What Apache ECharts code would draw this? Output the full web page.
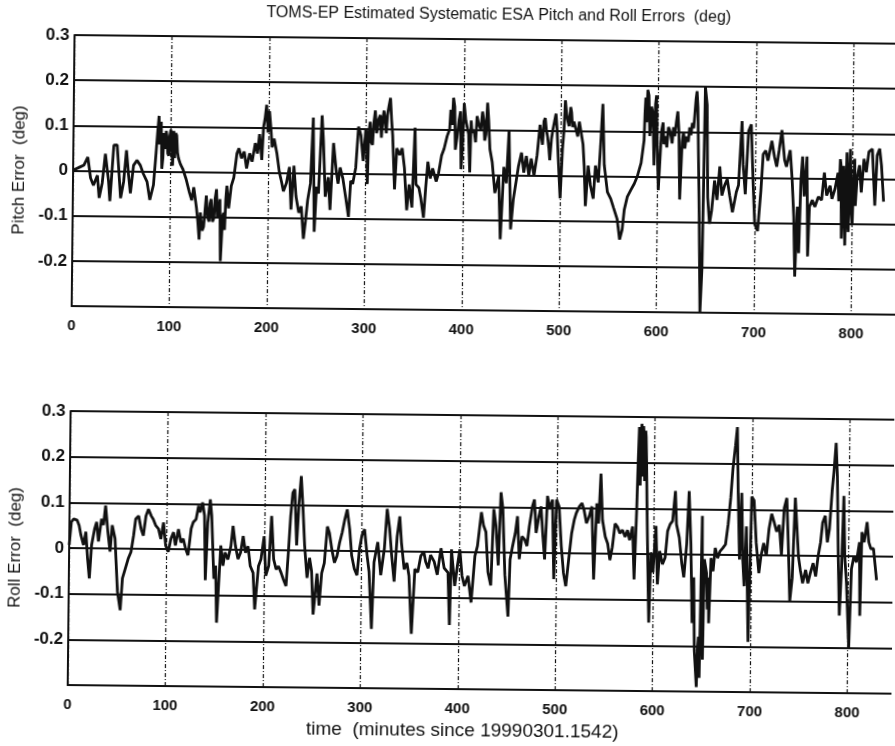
<!DOCTYPE html>
<html>
<head>
<meta charset="utf-8">
<script src="https://cdn.jsdelivr.net/npm/echarts@6/dist/echarts.min.js"></script>
<style>
  html, body { margin: 0; padding: 0; background: #fff; overflow: hidden; }
  #chart { width: 895px; height: 746px; transform: rotate(0.6deg); transform-origin: 50% 50%; }
</style>
</head>
<body>
<div id="chart"></div>
<script>
// Chart text
const chartTitle = 'TOMS-EP Estimated Systematic ESA Pitch and Roll Errors  (deg)';
const pitchAxisName = 'Pitch Error  (deg)';
const rollAxisName = 'Roll Error  (deg)';
const timeAxisName = 'time  (minutes since 19990301.1542)';

// Axis ranges and tick spacing
const timeRange = [0, 900];
const timeStep = 100;
const errRange = [-0.3, 0.3];
const errStep = 0.1;

// Estimated pitch error: [minutes, deg]
const pitchSamples = [
  [0,0.000],[3,0.004],[7,0.008],[11,0.012],[15,0.030],[18,-0.016],[21,-0.032],[25,-0.010],
  [27,-0.060],[30,-0.027],[33,0.038],[36.5,-0.023],[38,-0.067],[41.6,0.057],[45,0.058],[49,-0.060],
  [52,-0.023],[54.6,0.046],[57,-0.009],[59,-0.049],[62,0.013],[65.5,0.024],[69,0.013],[72,-0.005],
  [76,-0.023],[79,-0.063],[82.6,-0.030],[85,0.042],[86.5,0.090],[87.7,0.123],[88.5,0.060],[89.4,0.100],
  [90,0.110],[91,0.006],[92,0.030],[93,0.085],[94.5,0.050],[95.2,0.090],[96,0.078],[97,0.040],
  [98,0.035],[99,0.080],[100,0.093],[101,0.050],[102,0.013],[103,0.090],[104,0.030],[105,0.085],
  [106,0.080],[107,0.042],[108,0.030],[110,0.017],
  [112.6,0.006],[116,-0.016],[119.5,-0.045],[122,-0.063],[124,-0.034],[127,-0.080],[128.5,-0.110],[130,-0.150],
  [131,-0.090],[132,-0.088],[133,-0.130],[134.5,-0.121],[136,-0.080],[137,-0.052],[138.5,-0.100],[140,-0.110],
  [141,-0.070],[142,-0.060],[143.5,-0.110],[145,-0.102],[146,-0.060],[147.4,-0.038],[148.5,-0.100],[150,-0.092],
  [151,-0.060],[152,-0.197],[154,-0.096],[155,-0.090],[156,-0.128],[157,-0.060],[158,-0.030],[160,-0.080],
  [162.5,-0.030],[165,-0.012],[168,0.042],[170,0.053],
  [172.7,0.031],[175.4,0.046],[178,0.009],[181,0.042],[183.6,0.024],[186.7,0.065],[189,0.042],[191,0.085],
  [193.5,0.028],[195,0.100],[196.5,0.120],[198,0.150],[199.7,0.089],[200.5,0.110],[201,0.136],[202.5,0.100],
  [204,0.056],[206,0.075],[209,0.042],
  [211.6,0.002],[214,-0.020],[216,-0.041],[219,-0.023],[222,0.013],[224,-0.081],[226.6,0.016],[229,-0.052],
  [232,-0.088],[234.5,-0.074],[237,-0.146],[239,-0.106],[241,-0.060],[243.7,-0.023],[246,0.123],[248,-0.130],
  [250,-0.030],[252,-0.045],[255,0.128],[256.6,0.072],[259,-0.052],[262,-0.009],[264,-0.081],[267,0.067],
  [270,0.006],[272,-0.023],[274,0.013],[277,-0.012],[280.5,-0.060],[283,-0.096],[285,-0.016],[287,-0.023],
  [290,0.013],[292.5,0.104],[295,0.085],[297.6,0.028],[300,0.100],[301,0.080],[302,-0.023],[303,0.090],
  [304.4,0.115],[305.5,0.070],[307,0.064],[308,0.110],[309.6,0.140],[311,0.090],[312,0.100],[313,0.120],
  [314.7,0.130],[316,0.080],[317,0.115],[318.5,0.140],[320,0.108],[321,0.090],[322,0.130],[323.5,0.150],
  [325,0.168],[326.3,0.120],[327.6,0.085],
  [330,-0.034],[332,0.057],[335,0.042],[337.5,0.057],[340,0.013],[342.7,-0.080],[345,-0.023],[348,-0.074],
  [350.5,0.103],[352,-0.023],[355,-0.030],[357,-0.052],[360,-0.096],[362,-0.030],[364,0.028],[366.5,-0.009],
  [369,0.013],[372.7,-0.016],[375,0.002],[378,0.042],[380.5,0.057],[383.5,0.085],[386,0.100],[387,0.143],
  [388.5,0.110],[389.7,0.170],[391,0.150],[392,0.055],[393.5,0.080],[395.5,0.120],[397,0.140],[398,0.012],
  [399.3,0.060],[400.7,0.158],[402.5,0.120],[404,0.120],[405.5,0.090],[407,0.005],[408,0.120],[409,0.093],
  [411,0.100],[412.7,0.072],[414,0.130],[416,0.110],[418,0.100],[419.6,0.140],[421,0.120],[422,0.076],
  [423.3,0.090],[424.7,0.160],[426,0.120],[427.5,0.057],[430,0.028],[433,-0.040],[436.8,-0.003],
  [439,-0.142],[442,0.018],[444.7,-0.018],[447,0.100],[449.5,-0.120],[452,-0.054],[455,-0.010],[457,0.020],
  [460,0.050],[462.5,0.006],[465,0.043],[467.7,0.000],[470,0.037],[473,0.000],[476,0.045],[478.7,0.112],
  [480,0.090],[481.4,0.068],[482.7,0.120],[484,0.127],[485.3,0.100],[486.6,0.085],[488,0.060],[489,0.034],
  [490.5,0.080],[491.8,0.100],[493.5,0.120],[495,0.137],[496.3,0.100],[497.6,0.042],[500,-0.050],
  [502,0.060],[503.3,0.100],[504.5,0.167],[505.7,0.140],[507,0.123],[508.5,0.110],[510,0.152],[511,0.140],
  [512,0.108],[513.4,0.120],[514.8,0.123],[516,0.100],[517.5,0.087],[519,0.120],[521,0.095],[523,0.070],
  [524.4,0.022],[526,-0.067],[528.5,0.023],[531,-0.021],[534,-0.050],[536,0.023],[539,-0.014],[541,0.066],
  [543,0.160],[545,0.025],[548.5,-0.035],[552,-0.050],[555,-0.070],[558.8,-0.095],[561.5,-0.140],[564,-0.118],
  [566,-0.074],[569,-0.045],[572.5,-0.030],[576,-0.016],[579,0.000],[582.8,0.030],[585.6,0.080],[586.3,0.140],
  [587,0.175],[588,0.120],[589,0.192],[590.2,0.180],[591.4,0.090],[592.2,0.120],[593,0.155],[594.5,0.140],
  [596,0.025],[597,0.160],[598,0.180],[599,0.080],[600.7,-0.030],[603.4,0.100],[605,0.120],[606,0.072],
  [607.5,0.090],[609,0.065],[610.5,0.110],[612,0.102],[613.2,0.090],[614.4,0.074],[615.7,0.110],[617,0.090],
  [618.5,0.120],[620,0.145],[621.3,0.100],[622.7,-0.050],[624.7,0.077],[626,0.100],[627.5,0.063],[629,0.090],
  [631,0.078],[632.3,0.110],[633.7,0.093],[635,0.120],[636.4,0.108],[637.5,0.140],[638.5,0.172],[639.5,0.190],
  [640.5,0.155],[643,-0.090],[644.7,-0.300],[646.4,-0.200],
  [648,0.200],[650,0.160],[651.5,-0.045],[653.6,-0.103],[655.7,-0.073],[658.4,-0.007],[661,-0.050],[663.6,0.024],
  [666,-0.040],[668.7,-0.018],[671.4,-0.004],[674,-0.040],[677,-0.077],[680.8,-0.032],[683,-0.017],[686,0.125],
  [687.6,0.029],[690,-0.037],[692.8,0.103],[695.5,0.118],[698,-0.014],[700,-0.103],[703,-0.118],[706,-0.029],
  [708,0.052],[710.6,0.060],[713,0.038],[716.8,0.082],[719.6,0.047],[722,0.025],[724.4,0.062],[727,0.106],
  [730,0.040],[732,0.025],[735.7,0.062],[738,-0.004],[740,-0.085],[741.6,-0.218],[743.6,-0.063],[745.4,-0.166],
  [747,-0.004],[748.5,0.048],[750.5,-0.040],[753,0.048],[754.6,-0.173],[756,-0.063],[758.8,-0.048],[761.5,-0.063],
  [765,-0.041],[768.4,-0.048],[771,0.013],[773.5,-0.038],[777,-0.016],[779,-0.045],[782,-0.023],[785,0.013],
  [786,-0.050],[787.3,0.043],[788,0.030],[789,-0.133],[790.7,0.028],[791.6,-0.060],[792.6,-0.148],[793.3,-0.030],
  [794,0.058],[795,-0.090],[796,-0.118],[796.8,0.020],[797.6,0.066],[798.8,-0.070],[800,-0.103],[801,0.000],
  [802,0.044],[803,-0.060],[804.5,0.000],[807,0.030],[809,-0.030],[811.5,0.044],[814,0.015],[816.5,0.060],
  [820,0.066],[823,-0.059],[825,0.052],[827.5,0.067],[829.5,0.030],[832,-0.050]
];

// Estimated roll error: [minutes, deg]
const rollSamples = [
  [0,0.007],[2,0.057],[4.4,0.064],[8,0.061],[10,0.050],[12,0.028],[14.7,0.007],[17,0.036],
  [19,-0.022],[21,-0.066],[23,0.007],[26,0.043],[28,0.058],[30,0.015],[33,0.065],[35,0.051],
  [37,0.094],[39.6,0.036],[42,-0.007],[44,0.051],[47,0.022],[50,-0.094],[53,-0.135],[55,-0.065],
  [57,-0.050],[60.7,-0.022],[63.5,-0.007],[66,0.029],[68,0.065],[71,0.072],[73.7,0.043],[76,0.029],
  [78.5,0.072],[81,0.087],[84,0.072],[86,0.065],[88.7,0.051],[91.5,0.044],[94,0.022],[96.6,0.058],
  [99,0.008],[101.7,-0.006],[104.4,0.023],[107,0.037],[109,0.008],[112,0.044],[114.7,0.015],[117,0.023],
  [119.5,0.001],[122,-0.013],[125,0.045],[127,0.059],[130,0.066],[132.4,0.095],[134,0.081],[136.5,0.103],
  [138.6,0.074],[140,-0.067],[142,0.059],[144.4,0.110],[146,0.074],[148.8,-0.064],[150.5,-0.035],[152,-0.160],
  [155.6,0.009],[158,-0.035],[160,-0.006],[163,-0.021],[166,0.008],[168,0.052],[170.6,0.009],[173.4,-0.020],
  [176,-0.006],[178.5,0.030],[181,-0.006],[183.6,0.008],[186,-0.035],[189,-0.050],[191,-0.130],[194.5,-0.035],
  [197,-0.020],[200,0.030],[202,-0.056],[205,-0.034],[207.5,0.075],[210,-0.020],[212.6,-0.042],[215,-0.035],
  [217.7,-0.049],[220,-0.063],[222.9,-0.078],[225,-0.005],[227,0.075],[229,0.126],[231,0.134],[233.4,0.011],
  [235.5,0.105],[237.5,0.163],[239.6,0.091],[241.6,0.012],[244.4,-0.060],[246.8,-0.016],[249,-0.045],[251,-0.140],
  [254.6,-0.050],[257,-0.120],[259.4,-0.049],[262,-0.027],[264.8,0.053],[267,0.039],[269.6,0.003],[272.4,-0.026],
  [275,-0.011],[277.5,0.018],[280,0.040],[282.6,0.069],[285,0.091],[287.7,0.048],[290,-0.010],[292.8,-0.039],
  [295.6,-0.053],[298,0.005],[300.3,0.034],[303,0.048],[305.8,-0.009],[308,-0.045],[311,-0.170],[313,-0.024],
  [316.7,0.020],[320,-0.052],[323.5,0.006],[326,0.093],[328.7,0.050],[331,-0.008],[333.8,-0.066],[336.5,0.033],
  [339,0.077],[341,0.019],[344,-0.039],[346.8,-0.025],[349,-0.053],[352,-0.180],[355,-0.038],[358,-0.045],
  [361,-0.009],[364,0.000],[366,-0.022],[368.6,-0.036],[371,-0.007],[374.7,-0.021],[378,-0.050],[381.6,0.008],
  [385,-0.035],[389,-0.045],[391,-0.160],[392.4,0.006],[396,-0.074],[398.6,-0.030],[401,0.006],[403.4,-0.052],
  [406,-0.074],[409.6,-0.052],[413,-0.110],[416.5,-0.008],[419,0.014],[422.7,0.088],[425,0.059],[427.5,0.045],
  [430,-0.043],[433,-0.072],[435.4,0.095],[437.8,0.059],[440.5,-0.028],[442.6,0.132],[444.7,0.096],[447.4,-0.049],
  [451,-0.140],[452.6,-0.015],[455,0.014],[457.7,0.043],[459.8,0.080],[462,-0.014],[464.6,0.036],[467.4,0.029],
  [469.8,0.015],[472,0.058],[475,0.102],[477,0.117],[479,0.044],[481.8,0.081],[483.8,0.102],[486,0.037],
  [488,-0.014],[490.4,0.125],[492.8,0.096],[495.5,0.117],[497.6,-0.057],[499.7,0.117],[502.4,0.102],[505,0.015],
  [507.5,-0.043],[510,-0.072],[512.7,-0.014],[515.5,0.044],[518,0.073],[520,0.088],[523,0.102],[525.8,0.110],
  [528,0.095],[530.6,0.066],[533.3,0.081],[536,0.103],[538.5,-0.057],[541,0.110],[543,0.066],[545,0.175],
  [547,0.074],[550,0.037],[552.6,0.022],[555,-0.014],[557.4,0.015],[560,0.066],[562.5,0.059],[565,0.045],
  [567.7,0.052],[570.4,0.037],[572.8,0.052],[575,0.030],[578,0.060],[580,-0.056],[582,0.097],[583,0.200],
  [584,0.278],[585.3,0.150],[586,0.270],[586.6,0.285],[587.3,0.170],[588.3,0.280],[589,0.256],[589.8,0.160],
  [590.5,0.270],[591,0.256],[591.7,0.200],[592.4,0.118],[594.5,-0.070],[595.5,-0.150],[597,0.004],[599.3,-0.040],
  [602,0.062],[604,-0.066],[606,0.007],[609,-0.022],[611.7,-0.007],[614,0.051],[616.5,0.066],[619,0.073],
  [621.6,0.139],[623,0.066],[626,0.037],[628.9,-0.021],[631,-0.050],[633.7,0.023],[635.7,0.139],[638,0.023],
  [640,-0.150],[641.3,-0.050],[642.6,-0.210],[643.8,-0.250],[645,-0.290],[646,-0.200],[646.7,-0.180],[647.8,-0.270],
  [649.5,0.085],[650.3,-0.120],[651,-0.230],[652,-0.010],[654.3,-0.040],[655.5,-0.120],[656.3,-0.050],
  [657,-0.150],[658.8,-0.007],[661,-0.036],[663,0.015],[665.6,-0.007],[668,0.008],[670.8,0.015],[673.5,0.023],
  [676,0.067],[678.4,0.125],[680.4,0.190],[682.8,0.240],[684.5,0.280],[686,0.135],[688,-0.010],[689.7,0.136],
  [691.4,-0.010],[693,-0.068],[694.8,0.063],[697.6,-0.190],[700,0.128],[702.4,0.120],[705,0.027],[708,-0.039],
  [710,-0.002],[712.7,0.027],[715.5,-0.001],[718,0.058],[720.6,0.091],[723,0.074],[725.8,0.052],[728.5,0.067],
  [731,0.001],[733.4,0.104],[736,0.126],[737.8,0.032],[740,-0.100],[742.3,-0.049],[744.7,0.127],[746.4,0.127],
  [748.5,-0.002],[750.5,-0.031],[753,-0.060],[756,-0.031],[758.4,-0.060],[760.8,-0.038],[763.6,-0.016],[766.3,-0.045],
  [768.7,0.000],[771,0.029],[773,0.073],[775.6,0.088],[778,0.030],[780,0.059],[782.5,0.146],[784,0.183],
  [786,0.248],[787.6,0.175],[789.3,0.001],[791,-0.130],[792.8,-0.028],[794.5,0.132],[796,0.001],[798,-0.058],
  [801,-0.200],[803,-0.028],[805.5,0.001],[808,-0.013],[811,0.031],[812,-0.130],[813.4,0.053],[815.8,0.031],
  [818.6,0.075],[820.6,0.031],[822.7,0.017],[825.4,0.017],[828.9,-0.052]
];

const FONT = '"Liberation Sans", Arial, Helvetica, sans-serif';
const INK = '#111';

function errLabel(v) {
  if (Math.abs(v) < 1e-9) return '0';
  return v.toFixed(1);
}

function timeAxis(gridIndex, withName) {
  const axis = {
    type: 'value',
    gridIndex: gridIndex,
    min: timeRange[0],
    max: timeRange[1],
    interval: timeStep,
    axisLine: { show: true, onZero: false, lineStyle: { color: INK, width: 2 } },
    axisTick: { show: false },
    axisLabel: {
      color: INK, fontFamily: FONT, fontSize: 15, fontWeight: 'bold',
      margin: 12, showMaxLabel: false
    },
    splitLine: { show: true, lineStyle: { color: INK, width: 1.2, type: [4, 2, 1, 2] } }
  };
  if (withName) {
    axis.name = timeAxisName;
    axis.nameLocation = 'middle';
    axis.nameGap = 32;
    axis.nameTextStyle = { color: INK, fontFamily: FONT, fontSize: 19, padding: [0, 87, 0, 0] };
  }
  return axis;
}

function errAxis(gridIndex, name) {
  return {
    type: 'value',
    gridIndex: gridIndex,
    min: errRange[0],
    max: errRange[1],
    interval: errStep,
    name: name,
    nameLocation: 'middle',
    nameGap: 41,
    nameTextStyle: { color: INK, fontFamily: FONT, fontSize: 17 },
    axisLine: { show: true, lineStyle: { color: INK, width: 2 } },
    axisTick: { show: false },
    axisLabel: {
      color: INK, fontFamily: FONT, fontSize: 17, fontWeight: 'bold',
      margin: 5, showMinLabel: false, formatter: errLabel
    },
    splitLine: { show: true, lineStyle: { color: INK, width: 2.2 } }
  };
}

const chart = echarts.init(document.getElementById('chart'), null, { renderer: 'canvas' });
chart.setOption({
  animation: false,
  backgroundColor: '#fff',
  title: {
    text: chartTitle,
    left: 490,
    top: 2,
    textAlign: 'center',
    textStyle: { color: INK, fontFamily: FONT, fontSize: 16, fontWeight: 'normal' }
  },
  // The time axis runs past the right edge of the page, so the grids are not kept inside it.
  grid: [
    { left: 71, width: 877, top: 39, height: 271, outerBoundsMode: 'none' },
    { left: 71, width: 877, top: 415, height: 274, outerBoundsMode: 'none' }
  ],
  xAxis: [timeAxis(0, false), timeAxis(1, true)],
  yAxis: [errAxis(0, pitchAxisName), errAxis(1, rollAxisName)],
  series: [
    {
      name: 'Pitch', type: 'line', xAxisIndex: 0, yAxisIndex: 0,
      data: pitchSamples, showSymbol: false, clip: true,
      lineStyle: { color: INK, width: 2.8 }
    },
    {
      name: 'Roll', type: 'line', xAxisIndex: 1, yAxisIndex: 1,
      data: rollSamples, showSymbol: false, clip: true,
      lineStyle: { color: INK, width: 2.8 }
    }
  ]
});
</script>
</body>
</html>
